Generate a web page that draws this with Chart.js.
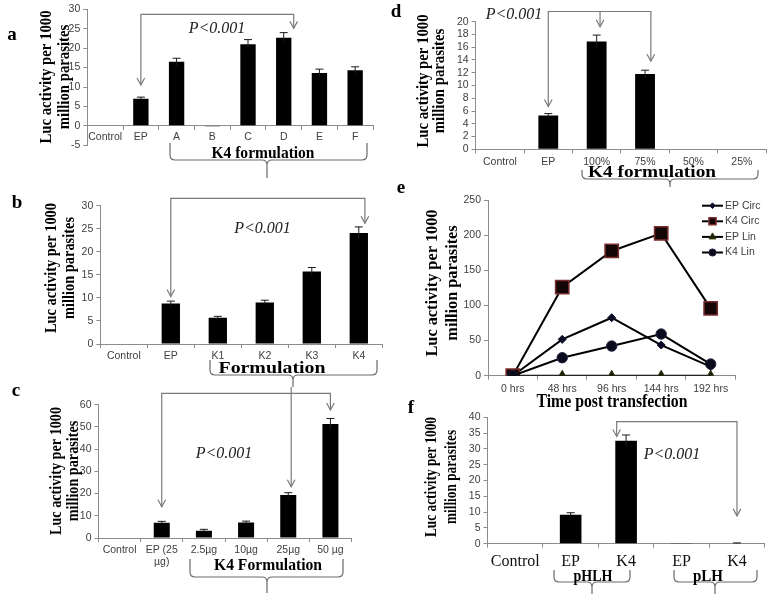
<!DOCTYPE html>
<html><head><meta charset="utf-8">
<script src="https://cdn.jsdelivr.net/npm/chart.js@4.4.0/dist/chart.umd.min.js"></script>
<style>
html,body{margin:0;padding:0;background:#fff;}
#wrap{position:relative;width:773px;height:598px;overflow:hidden;background:#fff;}
canvas{position:absolute;left:0;top:0;}
</style></head><body><div id="wrap">
<canvas id="pa" width="773" height="598"></canvas>
<canvas id="pb" width="773" height="598"></canvas>
<canvas id="pc" width="773" height="598"></canvas>
<canvas id="pd" width="773" height="598"></canvas>
<canvas id="pe" width="773" height="598"></canvas>
<canvas id="pf" width="773" height="598"></canvas>
</div>
<script>
// ---------- DATA ----------
const aLabels = ['Control','EP','A','B','C','D','E','F'];
const aValues = [0, 7.0, 16.5, -0.15, 21.0, 22.7, 13.6, 14.3];
const aErrors = [0, 0.4, 0.9, 0, 1.2, 1.3, 1.0, 0.9];

const bLabels = ['Control','EP','K1','K2','K3','K4'];
const bValues = [0, 8.8, 5.7, 9.0, 15.7, 24.1];
const bErrors = [0, 0.5, 0.3, 0.5, 0.9, 1.3];

const cLabels = ['Control',['EP (25','µg)'],'2.5µg','10µg','25µg','50 µg'];
const cValues = [0, 6.9, 3.3, 7.0, 19.3, 51.3];
const cErrors = [0, 0.6, 0.6, 0.6, 1.1, 2.5];

const dLabels = ['Control','EP','100%','75%','50%','25%'];
const dValues = [0, 5.3, 16.9, 11.8, 0, 0];
const dErrors = [0, 0.3, 1.0, 0.6, 0, 0];

const eLabels = ['0 hrs','48 hrs','96 hrs','144 hrs','192 hrs'];
const eSeriesNames = ['EP Circ','K4 Circ','EP Lin','K4 Lin'];
const eEPCirc = [0, 51.7, 82.5, 43.6, 12.8];
const eK4Circ = [0, 126, 177.5, 202.5, 95.8];
const eEPLin  = [0, 0, 0, 0, 0];
const eK4Lin  = [0, 25.6, 42.2, 59.3, 16.6];

const fLabels = ['Control','EP','K4','EP','K4'];
const fValues = [0, 9.2, 32.6, 0.1, 0.15];
const fErrors = [0, 0.6, 1.8, 0, 0.1];

// ---------- STYLE / LAYOUT ----------
const W = 773, H = 598, YW = 40, XH = 45;
const FS = "'Liberation Sans', Arial, sans-serif";
const FSERIF = "'Liberation Serif', 'Times New Roman', serif";
const AXIS = '#8c8c8c', TICK = '#404040', ARROW = '#7a7a7a';
const DECO = {};

function drawText(ctx, t) {
  ctx.save();
  ctx.font = t.font;
  ctx.fillStyle = t.color || '#000';
  ctx.textAlign = t.align || 'center';
  ctx.textBaseline = t.base || 'middle';
  ctx.translate(t.x, t.y);
  if (t.rot) ctx.rotate(t.rot);
  if (t.sx) ctx.scale(t.sx, 1);
  else if (t.w) { const m = ctx.measureText(t.text).width; ctx.scale(t.w / m, 1); }
  ctx.fillText(t.text, 0, 0);
  ctx.restore();
}
function drawYTitle(ctx, o) {
  const font = 'bold 17px ' + FSERIF;
  ctx.save();
  ctx.font = font;
  const m = ctx.measureText('Luc activity per 1000').width;
  ctx.restore();
  const sx = o.w1 / m;
  drawText(ctx, {text:'Luc activity per 1000', x:o.x1, y:o.cy, font, rot:-Math.PI/2, sx});
  drawText(ctx, {text:'million parasites', x:o.x2, y:o.cy, font, rot:-Math.PI/2, sx});
}
function drawBracket(ctx, b) {
  const r = 5;
  ctx.save();
  ctx.strokeStyle = '#6a6a6a'; ctx.lineWidth = 1.2;
  ctx.beginPath();
  ctx.moveTo(b.l, b.top); ctx.lineTo(b.l, b.mid - r);
  ctx.quadraticCurveTo(b.l, b.mid, b.l + r, b.mid);
  ctx.lineTo(b.c - r, b.mid);
  ctx.quadraticCurveTo(b.c, b.mid, b.c, b.mid + r);
  ctx.lineTo(b.c, b.bot);
  ctx.moveTo(b.r, b.top); ctx.lineTo(b.r, b.mid - r);
  ctx.quadraticCurveTo(b.r, b.mid, b.r - r, b.mid);
  ctx.lineTo(b.c + r, b.mid);
  ctx.quadraticCurveTo(b.c, b.mid, b.c, b.mid + r);
  ctx.stroke();
  ctx.restore();
}
function head(ctx, x, y) {
  ctx.moveTo(x - 3.8, y - 7); ctx.lineTo(x, y); ctx.lineTo(x + 3.8, y - 7);
}
function drawMarker(ctx, style, x, y, r) {
  ctx.beginPath();
  if (style === 'rectRot') {
    ctx.moveTo(x, y - r); ctx.lineTo(x + r, y); ctx.lineTo(x, y + r); ctx.lineTo(x - r, y); ctx.closePath();
  } else if (style === 'rect') {
    const s = Math.SQRT1_2 * r; ctx.rect(x - s, y - s, 2 * s, 2 * s);
  } else if (style === 'triangle') {
    for (let k = 0; k < 3; k++) {
      const a = k * 2 * Math.PI / 3;
      const px = x + Math.sin(a) * r, py = y - Math.cos(a) * r;
      k ? ctx.lineTo(px, py) : ctx.moveTo(px, py);
    }
    ctx.closePath();
  } else {
    ctx.arc(x, y, r, 0, Math.PI * 2);
  }
  ctx.fill(); ctx.stroke();
}

Chart.register({
  id: 'deco',
  afterDatasetsDraw(chart) {
    const d = DECO[chart.canvas.id];
    if (!d || !d.errors) return;
    const ctx = chart.ctx, ys = chart.scales.y;
    const meta = chart.getDatasetMeta(0);
    const vals = chart.data.datasets[0].data;
    ctx.save();
    ctx.strokeStyle = '#1a1a1a'; ctx.lineWidth = 1;
    meta.data.forEach((el, i) => {
      const e = d.errors[i];
      if (!e) return;
      const yt = ys.getPixelForValue(vals[i] + e);
      const yb = ys.getPixelForValue(vals[i] - e);
      ctx.beginPath();
      ctx.moveTo(el.x, yb); ctx.lineTo(el.x, yt);
      ctx.moveTo(el.x - 4, yt); ctx.lineTo(el.x + 4, yt);
      ctx.stroke();
    });
    ctx.restore();
  },
  afterDraw(chart) {
    const d = DECO[chart.canvas.id];
    if (!d) return;
    const ctx = chart.ctx, xs = chart.scales.x, ys = chart.scales.y;
    (d.arrows || []).forEach(a => {
      const pts = a.pts.map(p => [xs.getPixelForValue(p[0]), ys.getPixelForValue(p[1])]);
      ctx.save();
      ctx.strokeStyle = ARROW; ctx.lineWidth = 1.2;
      ctx.beginPath();
      pts.forEach((p, i) => i ? ctx.lineTo(p[0], p[1]) : ctx.moveTo(p[0], p[1]));
      ctx.stroke();
      ctx.beginPath();
      if (a.heads === 'both') head(ctx, pts[0][0], pts[0][1]);
      const l = pts[pts.length - 1];
      head(ctx, l[0], l[1]);
      ctx.stroke();
      ctx.restore();
    });
    (d.brackets || []).forEach(b => drawBracket(ctx, b));
    (d.texts || []).forEach(t => drawText(ctx, t));
    if (d.ytitle) drawYTitle(ctx, d.ytitle);
    if (d.legend) {
      const L = d.legend;
      chart.data.datasets.forEach((ds, i) => {
        const y = L.y0 + i * L.dy;
        ctx.save();
        ctx.strokeStyle = '#000'; ctx.lineWidth = 2;
        ctx.beginPath(); ctx.moveTo(L.x0, y); ctx.lineTo(L.x1, y); ctx.stroke();
        ctx.fillStyle = ds.pointBackgroundColor; ctx.strokeStyle = ds.pointBorderColor;
        ctx.lineWidth = ds.pointBorderWidth || 1;
        drawMarker(ctx, ds.pointStyle, (L.x0 + L.x1) / 2, y, L.r[i]);
        ctx.fillStyle = TICK; ctx.font = '10.5px ' + FS;
        ctx.textAlign = 'left'; ctx.textBaseline = 'middle';
        ctx.fillText(ds.label, L.x1 + 2, y);
        ctx.restore();
      });
    }
  }
});

function scales(o) {
  return {
    x: {
      type: 'category', offset: true,
      position: o.xAtZero ? {y: 0} : 'bottom',
      grid: {offset: true, drawOnChartArea: false, drawTicks: true, tickLength: 4, color: AXIS, lineWidth: 1},
      border: {color: AXIS, width: 1},
      ticks: {color: o.xColor || TICK, font: o.xFont || {family: FS, size: 10.5}, padding: o.xPad,
              maxRotation: 0, autoSkip: false},
      afterFit: s => { s.height = XH; }
    },
    y: {
      type: 'linear', min: o.min, max: o.max,
      ticks: {stepSize: o.step, color: TICK, font: {family: FS, size: 10.5}, padding: 3, autoSkip: false},
      grid: {drawOnChartArea: false, drawTicks: true, tickLength: 4, color: AXIS},
      border: {color: AXIS, width: 1},
      afterFit: s => { s.width = YW; }
    }
  };
}
function layoutFor(o) {
  const p = o.plot;
  return {padding: {left: p.l - YW, right: W - p.r, top: p.t, bottom: H - p.b - (o.xAtZero ? 0 : XH)}};
}
function barPanel(id, o) {
  DECO[id] = o.deco;
  DECO[id].errors = o.errors;
  return new Chart(document.getElementById(id), {
    type: 'bar',
    data: {labels: o.labels, datasets: [{data: o.values, backgroundColor: '#000', borderWidth: 0,
           categoryPercentage: 1, barPercentage: o.barPct}]},
    options: {
      responsive: false, animation: false, events: [], devicePixelRatio: 1,
      layout: layoutFor(o),
      plugins: {legend: {display: false}, tooltip: {enabled: false}},
      scales: scales(o)
    }
  });
}
const P = 'italic 16px ' + FSERIF;
const BOLD = s => 'bold ' + s + 'px ' + FSERIF;

// ---------- PANEL a ----------
barPanel('pa', {
  labels: aLabels, values: aValues, errors: aErrors, barPct: 0.43,
  plot: {l: 87.3, r: 373, t: 9, b: 145.3}, min: -5, max: 30, step: 5, xAtZero: true, xPad: 1,
  deco: {
    arrows: [{pts: [[1, 10.5], [1, 28.7], [5.28, 28.7], [5.28, 25.1]], heads: 'both'}],
    brackets: [{l: 170, r: 367, c: 267, top: 143, mid: 160, bot: 178}],
    texts: [
      {text: 'P<0.001', x: 217, y: 28.3, font: P, color: '#222'},
      {text: 'K4 formulation', x: 263, y: 154, font: BOLD(17), w: 103},
      {text: 'a', x: 12, y: 40, font: BOLD(19), base: 'alphabetic'}
    ],
    ytitle: {x1: 47, x2: 65, cy: 77, w1: 133}
  }
});

// ---------- PANEL b ----------
barPanel('pb', {
  labels: bLabels, values: bValues, errors: bErrors, barPct: 0.39,
  plot: {l: 100.3, r: 382.3, t: 205.7, b: 344}, min: 0, max: 30, step: 5, xPad: 1.5,
  deco: {
    arrows: [{pts: [[1, 10.3], [1, 31.6], [5.13, 31.6], [5.13, 26.2]], heads: 'both'}],
    brackets: [{l: 210, r: 377, c: 293, top: 360, mid: 375, bot: 387}],
    texts: [
      {text: 'P<0.001', x: 262.5, y: 228.3, font: P, color: '#222'},
      {text: 'Formulation', x: 272, y: 369, font: BOLD(16), w: 107},
      {text: 'b', x: 17, y: 208, font: BOLD(19), base: 'alphabetic'}
    ],
    ytitle: {x1: 52, x2: 70, cy: 268, w1: 130}
  }
});

// ---------- PANEL c ----------
barPanel('pc', {
  labels: cLabels, values: cValues, errors: cErrors, barPct: 0.38,
  plot: {l: 98.5, r: 351.5, t: 404.7, b: 538}, min: 0, max: 60, step: 10, xPad: 1.7,
  deco: {
    arrows: [
      {pts: [[1, 14.1], [1, 65.1], [5, 65.1], [5, 57.6]], heads: 'both'},
      {pts: [[4.07, 68], [4.07, 23.1]], heads: 'end'}
    ],
    brackets: [{l: 190, r: 343, c: 267, top: 559, mid: 577, bot: 593}],
    texts: [
      {text: 'P<0.001', x: 224, y: 453.3, font: P, color: '#222'},
      {text: 'K4 Formulation', x: 268, y: 566, font: BOLD(17), w: 108},
      {text: 'c', x: 16, y: 396, font: BOLD(19), base: 'alphabetic'}
    ],
    ytitle: {x1: 57, x2: 74, cy: 471, w1: 128}
  }
});

// ---------- PANEL d ----------
barPanel('pd', {
  labels: dLabels, values: dValues, errors: dErrors, barPct: 0.41,
  plot: {l: 475.7, r: 766, t: 21.7, b: 149.3}, min: 0, max: 20, step: 2, xPad: 2.4,
  deco: {
    arrows: [
      {pts: [[1, 6.7], [1, 21.6], [3.12, 21.6], [3.12, 13.8]], heads: 'both'},
      {pts: [[2.07, 21.6], [2.07, 19.2]], heads: 'end'}
    ],
    brackets: [{l: 582, r: 758, c: 670, top: 170, mid: 179, bot: 187}],
    texts: [
      {text: 'P<0.001', x: 514, y: 15, font: P, color: '#222'},
      {text: 'K4 formulation', x: 652, y: 173, font: BOLD(16), w: 128},
      {text: 'd', x: 396, y: 17, font: BOLD(19), base: 'alphabetic'}
    ],
    ytitle: {x1: 424, x2: 440, cy: 81, w1: 133}
  }
});

// ---------- PANEL e ----------
(function () {
  const o = {plot: {l: 488, r: 735.4, t: 200, b: 375.7}, min: 0, max: 250, step: 50, xPad: 3};
  DECO['pe'] = {
    texts: [
      {text: 'Time post transfection', x: 612, y: 401.7, font: BOLD(19), w: 151},
      {text: 'e', x: 401, y: 193, font: BOLD(19), base: 'alphabetic'}
    ],
    ytitle: {x1: 433, x2: 453, cy: 283, w1: 147},
    legend: {x0: 702, x1: 723, y0: 205.7, dy: 15.6, r: [2.8, 5, 4, 3.6]}
  };
  const common = {borderColor: '#000', borderWidth: 2, tension: 0, fill: false};
  new Chart(document.getElementById('pe'), {
    type: 'line',
    data: {labels: eLabels, datasets: [
      Object.assign({label: eSeriesNames[0], data: eEPCirc, pointStyle: 'rectRot', pointRadius: 4,
        pointBackgroundColor: '#0a0a26', pointBorderColor: '#0a0a26', pointBorderWidth: 1, order: 4}, common),
      Object.assign({label: eSeriesNames[1], data: eK4Circ, pointStyle: 'rect', pointRadius: 9.4,
        pointBackgroundColor: '#140606', pointBorderColor: '#7a2c2c', pointBorderWidth: 1.5, order: 3}, common),
      Object.assign({label: eSeriesNames[2], data: eEPLin, pointStyle: 'triangle', pointRadius: 5.4,
        pointBackgroundColor: '#1c1e06', pointBorderColor: '#33360a', pointBorderWidth: 1, order: 2}, common),
      Object.assign({label: eSeriesNames[3], data: eK4Lin, pointStyle: 'circle', pointRadius: 5.2,
        pointBackgroundColor: '#0a0a1c', pointBorderColor: '#20203c', pointBorderWidth: 1, order: 1}, common)
    ]},
    options: {
      responsive: false, animation: false, events: [], devicePixelRatio: 1,
      layout: layoutFor(o),
      plugins: {legend: {display: false}, tooltip: {enabled: false}},
      scales: scales(o)
    }
  });
})();

// ---------- PANEL f ----------
barPanel('pf', {
  labels: fLabels, values: fValues, errors: fErrors, barPct: 0.39,
  plot: {l: 487.5, r: 764.7, t: 417.3, b: 543.7}, min: 0, max: 40, step: 5, xPad: 4.4,
  xFont: {family: FSERIF, size: 16}, xColor: '#111',
  deco: {
    arrows: [{pts: [[1.83, 33.9], [1.83, 38.6], [4, 38.6], [4, 8.8]], heads: 'both'}],
    brackets: [
      {l: 554, r: 630, c: 592, top: 570, mid: 582, bot: 594},
      {l: 674, r: 757, c: 715, top: 570, mid: 582, bot: 594}
    ],
    texts: [
      {text: 'P<0.001', x: 672, y: 455, font: P, color: '#222'},
      {text: 'pHLH', x: 593, y: 577, font: BOLD(16), w: 39},
      {text: 'pLH', x: 708, y: 577, font: BOLD(16), w: 30},
      {text: 'f', x: 411, y: 413, font: BOLD(19), base: 'alphabetic'}
    ],
    ytitle: {x1: 432, x2: 452, cy: 477, w1: 120}
  }
});
</script>
</body></html>
